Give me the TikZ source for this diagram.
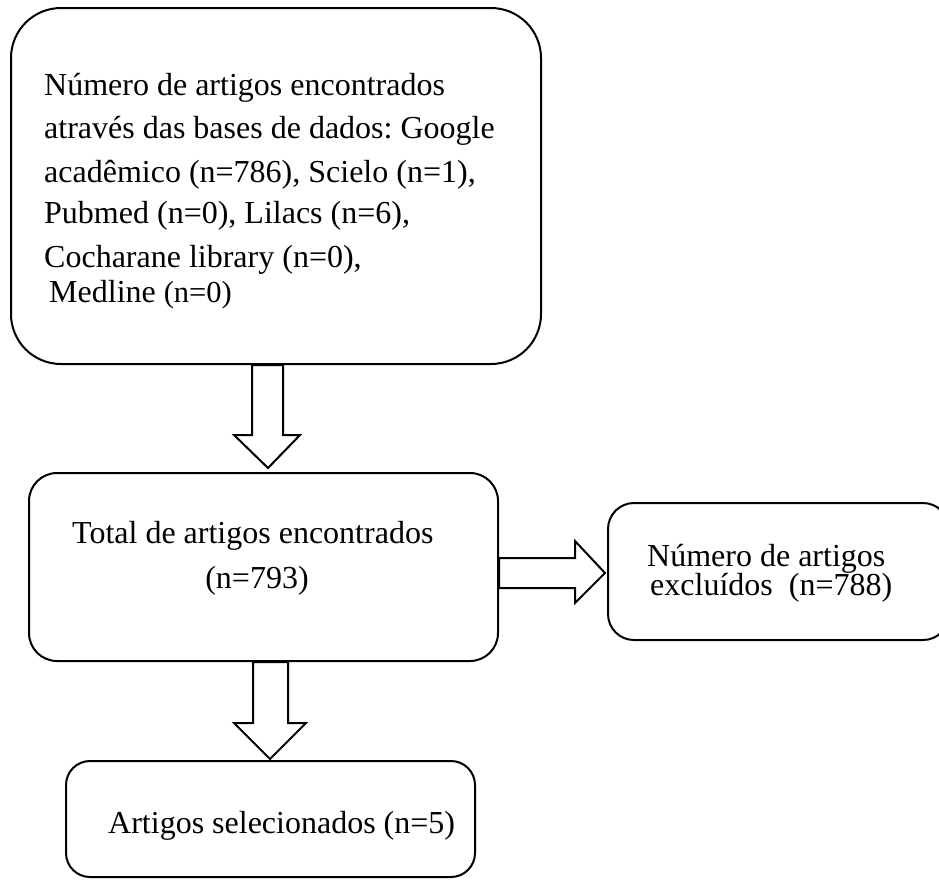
\documentclass[tikz,border=0pt]{standalone}
\usepackage{fontspec}
\setmainfont{Liberation Serif}
\usetikzlibrary{calc}
\frenchspacing

\tikzset{
  caixa/.style={draw, line width=2pt, rounded corners=#1, inner sep=0pt, anchor=north west},
  texto/.style={inner sep=0pt, anchor=base west, font=\fontsize{32}{38}\selectfont},
  seta/.style={draw, line width=2pt, fill=white, line join=miter},
}

\begin{document}
\begin{tikzpicture}[x=1pt,y=-1pt]

    % área total da figura
    \useasboundingbox (0,0) rectangle (939,879);

    % caixas
    \node[caixa=50pt, minimum width=530pt, minimum height=356pt] (busca) at (10,7) {};
    \node[caixa=28pt, minimum width=469pt, minimum height=188pt] (total) at (28,472) {};
    \node[caixa=26pt, minimum width=341pt, minimum height=137pt] (excluidos) at (607,502) {};
    \node[caixa=24pt, minimum width=409pt, minimum height=116pt] (selecionados) at (65,760) {};

    % texto da busca
    \node[texto] (busca-1) at (44,95)  {Número de artigos encontrados};
    \node[texto] (busca-2) at (44,138) {através das bases de dados: Google};
    \node[texto] (busca-3) at (44,182) {acadêmico (n=786), Scielo (n=1),};
    \node[texto] (busca-4) at (44,223) {Pubmed (n=0), Lilacs (n=6),};
    \node[texto] (busca-5) at (44,267) {Cocharane library (n=0),};
    \node[texto] (busca-6) at (49,302) {Medline {\fontsize{30.5}{34}\selectfont(n=0)}};

    % texto do total
    \node[texto] (total-1) at (72,543) {Total de artigos encontrados};
    \node[texto, anchor=base] (total-2) at (257,588) {(n=793)};

    % texto dos excluídos
    \node[texto] (excluidos-1) at (647,566) {Número de artigos};
    \node[texto] (excluidos-2) at (650,595) {excluídos\ \ (n=788)};

    % texto dos selecionados
    \node[texto] (selecionados-1) at (108,833) {Artigos\ selecionados (n=5)};

    % seta busca -> total
    \draw[seta] (busca.south) ++(-24,0) -- ++(0,70) -- ++(-18,0) -- ++(34,33)
        -- ++(32,-33) -- ++(-17,0) -- ++(0,-70) -- cycle;

    % seta total -> excluídos
    \draw[seta] (total.east) ++(0,-9) -- ++(76,0) -- ++(0,-17) -- ++(30,32)
        -- ++(-30,30) -- ++(0,-15) -- ++(-76,0) -- cycle;

    % seta total -> selecionados
    \draw[seta] (total.south) ++(-10.5,0) -- ++(0,61) -- ++(-19,0) -- ++(36,36)
        -- ++(36,-36) -- ++(-18,0) -- ++(0,-61) -- cycle;

\end{tikzpicture}
\end{document}
